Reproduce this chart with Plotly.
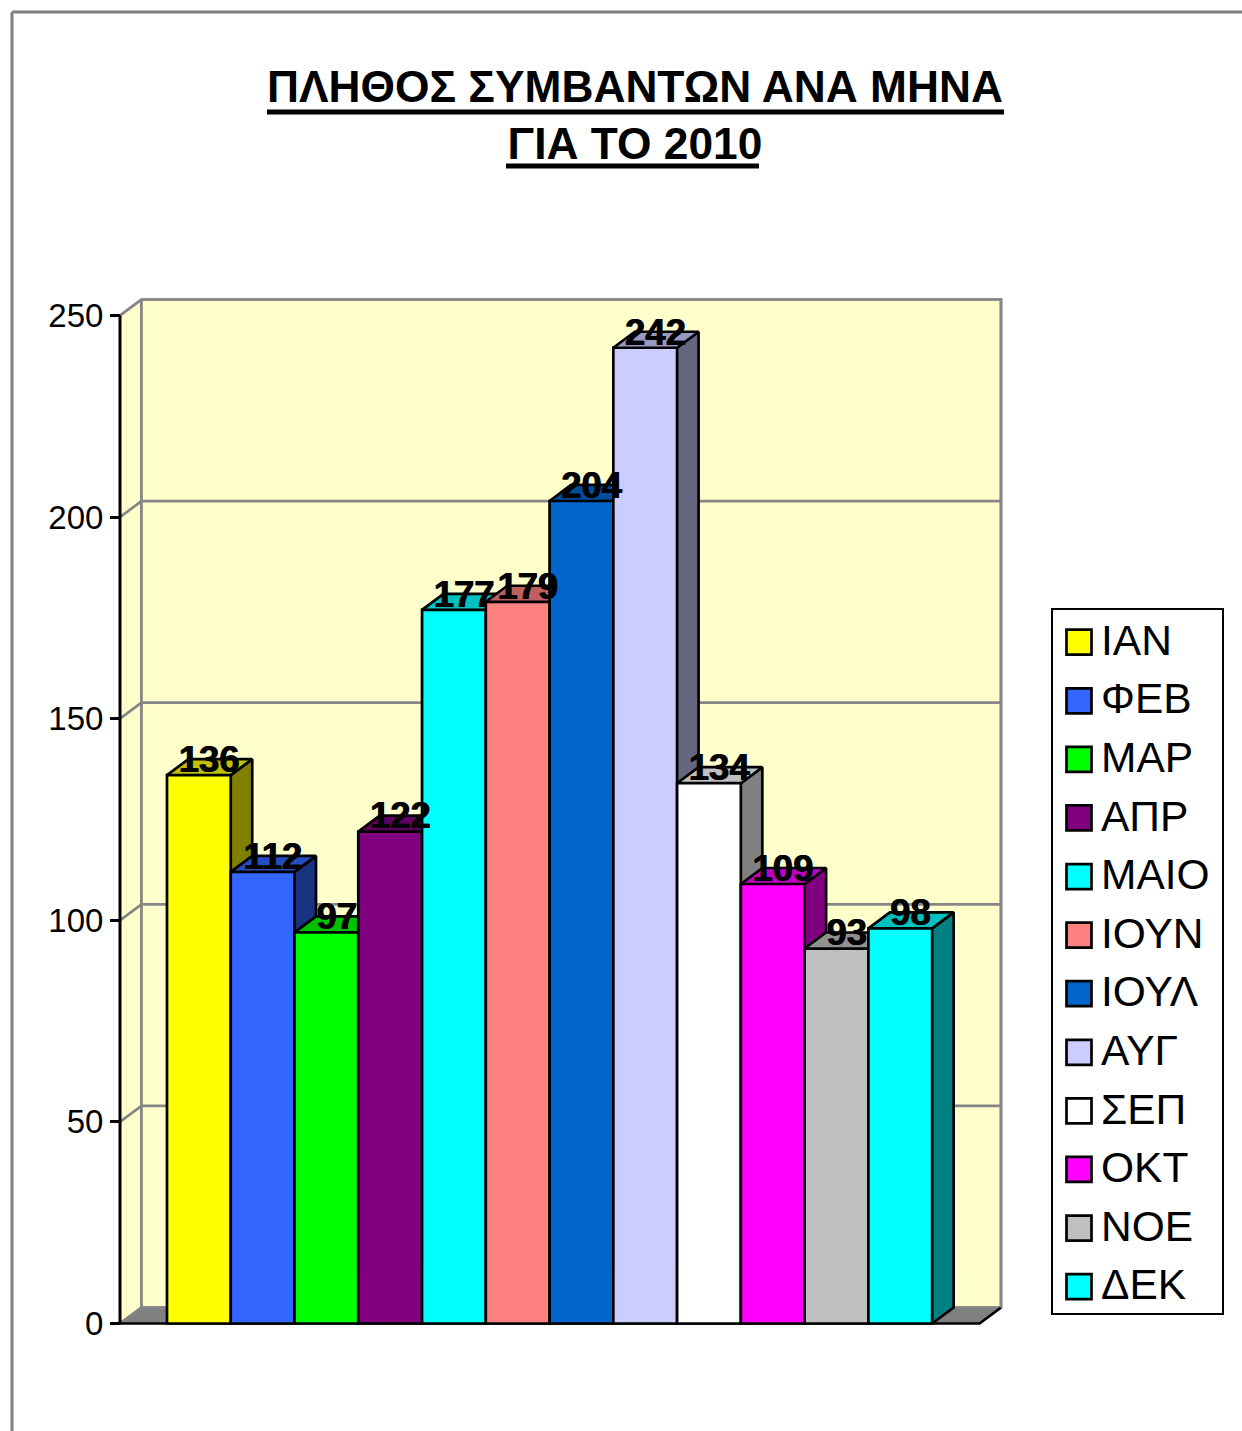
import plotly.graph_objects as go

months = ["ΙΑΝ", "ΦΕΒ", "ΜΑΡ", "ΑΠΡ", "ΜΑΙΟ", "ΙΟΥΝ", "ΙΟΥΛ", "ΑΥΓ", "ΣΕΠ", "ΟΚΤ", "ΝΟΕ", "ΔΕΚ"]
events = [136, 112, 97, 122, 177, 179, 204, 242, 134, 109, 93, 98]
front_colors = ["#FFFF00", "#3366FF", "#00FF00", "#800080", "#00FFFF", "#FF8080",
                "#0066CC", "#CCCCFF", "#FFFFFF", "#FF00FF", "#C0C0C0", "#00FFFF"]
top_colors = ["#C0C000", "#264DBF", "#00C000", "#600060", "#00C0C0", "#BF6060",
              "#004D99", "#9999BF", "#BFBFBF", "#BF00BF", "#909090", "#00C0C0"]
side_colors = ["#808000", "#1A3380", "#008000", "#400040", "#008080", "#804040",
               "#003366", "#666680", "#808080", "#800080", "#606060", "#008080"]
y_ticks = [0, 50, 100, 150, 200, 250]
title_text = "<b>ΠΛΗΘΟΣ ΣΥΜΒΑΝΤΩΝ ΑΝΑ ΜΗΝΑ<br>ΓΙΑ ΤΟ 2010</b>"

W, H = 1242, 1431
FONT = "Liberation Sans"
X_LEFT, X_RIGHT = -1.237, 12.58
DX, DY = 0.337, 3.97
GRAY, BLACK = "#868686", "#000000"
Y_TOP = max(y_ticks) + DY
# the plot area is a little larger than the box drawn in it (20 px all round)
PAD = 20
PX_X = (1001 - 120) / (X_RIGHT - X_LEFT)
PX_Y = (1323.5 - 299.5) / Y_TOP


def poly(xs, ys, fill, line=BLACK, width=2.7):
    return go.Scatter(x=xs, y=ys, mode="lines", fill="toself", fillcolor=fill,
                      line=dict(color=line, width=width), hoverinfo="skip",
                      showlegend=False, cliponaxis=False)


def stroke(xs, ys, color, width=2.7, overlay=False):
    return go.Scatter(x=xs, y=ys, mode="lines", line=dict(color=color, width=width),
                      xaxis="x2" if overlay else "x", yaxis="y2" if overlay else "y",
                      hoverinfo="skip", showlegend=False, cliponaxis=False)


fig = go.Figure()
xb = X_LEFT + DX
xf = X_RIGHT - DX
top = max(y_ticks)
fig.add_trace(poly([X_LEFT, xb, xb, X_LEFT], [0, DY, Y_TOP, top], "#FFFFCC", GRAY))
fig.add_trace(poly([xb, X_RIGHT, X_RIGHT, xb], [DY, DY, Y_TOP, Y_TOP], "#FFFFCC", GRAY))
fig.add_trace(poly([X_LEFT, xb, X_RIGHT, xf], [0, DY, DY, 0], "#808080", GRAY))
for t in y_ticks[1:-1]:
    fig.add_trace(stroke([X_LEFT, xb, X_RIGHT], [t, t + DY, t + DY], GRAY))
fig.add_trace(stroke([X_LEFT, xf, X_RIGHT], [0, 0, DY], BLACK))
for i, v in enumerate(events):
    r = i + 0.5
    fig.add_trace(poly([r, r + DX, r + DX, r], [0, DY, v + DY, v], side_colors[i]))
for i, v in enumerate(events):
    l, r = i - 0.5, i + 0.5
    fig.add_trace(poly([l, l + DX, r + DX, r], [v, v + DY, v + DY, v], top_colors[i]))

fig.add_trace(go.Bar(x=list(range(12)), y=events, width=1, xaxis="x2", yaxis="y2",
                     marker=dict(color=front_colors, line=dict(color=BLACK, width=2.7)),
                     showlegend=False, cliponaxis=False, hovertext=months))
fig.add_trace(stroke([X_LEFT, xb, X_RIGHT, X_RIGHT], [top, Y_TOP, Y_TOP, DY], GRAY, overlay=True))
fig.add_trace(stroke([xb, xb], [DY, Y_TOP], GRAY, overlay=True))
fig.add_trace(go.Scatter(x=[i + DX / 2 - 0.015 for i in range(12)], y=[v + DY - 0.9 for v in events],
                         xaxis="x2", yaxis="y2", mode="text", text=[str(v) for v in events],
                         textposition="middle center", cliponaxis=False, showlegend=False,
                         textfont=dict(family=FONT, size=36.5, color=BLACK, weight="bold",
                                       shadow="1px 0px 0px #000000")))

legend_pos = list(range(12))
fig.add_trace(go.Scatter(x=[0] * 12, y=legend_pos, xaxis="x3", yaxis="y3", mode="markers",
                         marker=dict(symbol="square", size=25, color=front_colors,
                                     line=dict(color=BLACK, width=2.7)),
                         showlegend=False, cliponaxis=False))
fig.add_trace(go.Scatter(x=[22] * 12, y=[p + 0.035 for p in legend_pos], xaxis="x3", yaxis="y3",
                         mode="text", text=months,
                         textposition="middle right", showlegend=False, cliponaxis=False,
                         textfont=dict(family=FONT, size=42.5, color=BLACK)))

dom_x = [(120 - PAD) / W, (1001 + PAD) / W]
dom_y = [1 - (1323.5 + PAD) / H, 1 - (299.5 - PAD) / H]
x_range = [X_LEFT - PAD / PX_X, X_RIGHT + PAD / PX_X]
y_range = [-PAD / PX_Y, Y_TOP + PAD / PX_Y]
hidden = dict(visible=False, showgrid=False, zeroline=False, automargin=False)
box = dict(showline=True, mirror=True, linecolor=BLACK, linewidth=2.2, showgrid=False, automargin=False,
           zeroline=False, ticks="", showticklabels=False, fixedrange=True)


def hline(x0, x1, y, color, width):
    return dict(type="line", xref="paper", yref="paper", x0=x0 / W, x1=x1 / W,
                y0=1 - y / H, y1=1 - y / H, line=dict(color=color, width=width))


fig.update_layout(
    width=W, height=H, autosize=False, margin=dict(l=0, r=0, t=0, b=0),
    paper_bgcolor="#FFFFFF", plot_bgcolor="rgba(0,0,0,0)", showlegend=False,
    font=dict(family=FONT, color=BLACK),
    title=dict(text=title_text, x=635 / W, xanchor="center", xref="paper",
               y=1 - 101.5 / H, yanchor="top", yref="paper", automargin=False,
               font=dict(family=FONT, size=44.3, color=BLACK)),
    xaxis=dict(domain=dom_x, range=x_range, **hidden),
    yaxis=dict(domain=dom_y, range=y_range, tickmode="array", tickvals=y_ticks, automargin=False,
               anchor="free", position=120 / W,
               ticks="outside", ticklen=10, tickwidth=3, tickcolor=BLACK, showline=False,
               showgrid=False, zeroline=False, tickfont=dict(family=FONT, size=33, color=BLACK)),
    xaxis2=dict(overlaying="x", matches="x", **hidden),
    yaxis2=dict(overlaying="y", matches="y", **hidden),
    xaxis3=dict(domain=[1053 / W, 1222 / W], range=[-26, 143], anchor="y3", **box),
    yaxis3=dict(domain=[1 - 1313 / H, 1 - 610 / H], anchor="x3", range=[11.45, -0.55], **box),
    shapes=[
        hline(12, W, 12, "#808080", 3),
        dict(type="line", xref="paper", yref="paper", x0=12 / W, x1=12 / W, y0=0, y1=1 - 12 / H,
             line=dict(color="#808080", width=3)),
        hline(267, 1004, 112, BLACK, 5),
        hline(506, 759, 166, BLACK, 5),
        dict(type="line", xref="x", yref="y", x0=X_LEFT, x1=X_LEFT, y0=0, y1=top, layer="above",
             line=dict(color=BLACK, width=3)),
    ],
)
fig.write_html("out.html", config=dict(displayModeBar=False), default_width="1242px", default_height="1431px",
               post_script="document.body.style.margin='0';")
